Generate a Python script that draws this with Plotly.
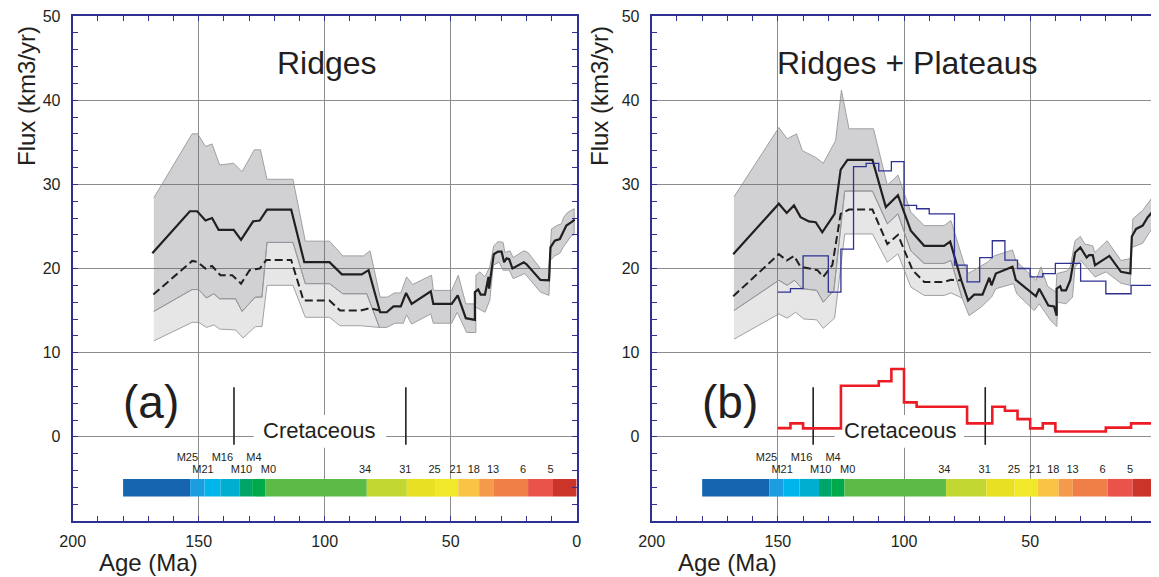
import plotly.graph_objects as go

# ---------------- DATA ----------------
# Left panel (a) Ridges
L_SOLID_AGE = [168.4,153.5,150.6,147.3,144.7,142.1,136.1,133.2,128.4,125.8,122.9,113.3,108.1,98.1,93.2,85.3,82.6,78.0,75.4,72.7,69.8,67.7,65.5,57.9,56.9,49.6,47.2,44.0,40.4,40.4,39.1,38.1,36.4,35.0,34.8,32.9,31.2,29.8,28.8,27.8,26.8,25.5,21.0,19.9,14.4,11.0,10.4,8.7,6.7,5.4,4.1,2.1,0.8]
L_SOLID_FLUX = [21.8,26.8,26.8,25.7,26.0,24.6,24.6,23.4,25.6,25.7,27.0,27.0,20.75,20.75,19.3,19.3,19.8,14.8,14.8,15.5,15.5,17.1,15.8,17.3,15.8,15.8,16.8,14.1,13.9,17.2,17.5,16.9,16.9,19.0,17.6,21.7,22.0,22.0,20.75,21.2,21.1,20.0,20.75,20.5,18.65,18.6,22.5,23.3,23.5,24.3,25.1,25.5,25.8]
L_DASH_AGE = [168.0,152.6,150.6,147.3,144.7,141.4,136.7,133.2,129.8,125.8,123.2,113.3,108.4,98.1,93.9,85.9,82.0,78.2]
L_DASH_FLUX = [16.9,20.9,20.8,20.0,20.3,19.2,19.2,18.2,19.8,20.0,21.0,21.0,16.2,16.2,15.0,15.0,15.3,15.0]
L_UP_AGE = [167.8,152.6,150.4,147.3,144.7,141.7,136.1,132.8,127.9,125.5,122.9,112.6,107.7,98.1,92.8,84.6,82.0,78.0,75.1,72.3,69.8,67.5,65.1,57.6,56.9,49.6,47.0,44.0,40.0,40.0,38.4,36.4,34.5,32.9,31.2,29.2,28.5,26.5,25.2,21.0,19.3,14.4,11.0,10.0,8.0,6.1,5.1,3.8,1.7,1.0]
L_UP_FLUX = [28.4,36.0,36.0,34.5,34.8,32.3,32.5,31.5,34.1,34.1,30.6,30.6,23.25,23.25,21.5,21.5,22.1,16.6,16.6,17.1,17.1,19.0,18.1,19.2,17.4,17.4,19.2,15.8,15.8,19.2,19.6,19.0,20.2,22.7,23.2,23.1,21.9,22.1,21.3,22.1,21.9,20.0,20.0,24.7,25.1,25.3,26.1,26.6,27.0,27.1]
L_MID_DUAL_AGE = [167.8,152.6,150.0,146.9,144.0,141.7,135.4,132.8,127.5,124.9,122.9,112.6,107.7,98.1,92.8,83.3,78.3]
L_MID_DUAL_FLUX = [14.9,17.5,17.5,16.5,17.0,16.4,16.4,14.9,16.6,16.6,23.1,23.1,18.2,18.2,17.0,17.0,13.0]
L_LOW_SINGLE_AGE = [75.4,72.1,68.8,67.5,65.5,57.9,56.9,49.6,47.4,43.7,40.0,40.0,36.4,34.5,33.1,30.8,29.2,26.8,25.2,20.6,14.4,11.0,10.4,8.7,6.7,5.4,2.1,1.0]
L_LOW_SINGLE_FLUX = [13.0,13.5,13.5,14.5,13.4,14.6,13.5,13.5,14.8,12.4,12.4,15.4,14.8,16.2,20.4,20.75,19.8,19.8,18.8,19.4,17.2,16.8,21.0,21.5,21.8,22.5,23.9,24.0]
L_LIGHT_LOW_AGE = [167.8,152.6,150.0,146.9,144.0,141.7,135.4,132.4,127.5,124.9,122.9,112.6,107.7,98.1,93.9,85.9,78.3]
L_LIGHT_LOW_FLUX = [11.4,13.6,13.6,13.0,13.3,12.8,12.7,11.75,13.1,13.1,18.0,18.0,14.2,14.2,13.2,13.2,13.0]

# Right panel (b) Ridges + Plateaus
R_SOLID_AGE = [167.7,149.6,146.5,143.6,141.0,137.7,135.0,132.4,127.5,125.1,122.4,112.5,107.2,102.4,97.3,92.0,84.1,81.7,77.3,74.6,72.2,68.9,66.2,65.3,63.6,57.0,55.7,47.7,46.4,42.8,40.5,39.5,39.5,38.1,37.5,35.8,34.1,32.2,30.1,27.6,26.6,25.2,24.3,19.9,18.6,14.0,10.3,9.7,8.0,5.4,3.4,1.0]
R_SOLID_FLUX = [21.7,27.7,26.6,27.5,26.1,25.6,25.5,24.3,26.5,31.75,32.9,32.9,27.3,28.7,24.5,22.7,22.7,23.2,18.6,16.2,16.9,16.9,18.9,18.0,19.4,20.2,18.65,16.7,17.6,15.6,15.5,14.4,17.6,17.9,17.4,17.4,18.6,21.9,22.5,21.3,21.6,21.6,20.4,21.2,21.5,19.6,19.4,23.8,24.7,25.1,26.1,26.9]
R_DASH_AGE = [167.7,149.6,146.5,143.6,141.0,137.7,134.3,132.0,128.4,125.1,121.8,112.5,106.6,102.4,96.6,92.0,84.1,81.4,77.3]
R_DASH_FLUX = [16.7,21.7,20.95,21.5,20.2,20.0,19.8,19.0,20.4,26.5,27.0,27.0,22.9,24.0,19.8,18.4,18.4,18.65,18.6]
R_UP_AGE = [167.4,149.6,146.3,142.6,140.3,135.0,132.0,127.1,124.8,121.8,112.1,106.6,102.4,97.3,92.0,84.1,81.4,76.2,74.6,66.9,64.3,57.0,55.7,47.7,45.7,43.1,39.8,39.4,35.4,34.1,32.2,30.1,28.3,25.2,24.3,19.5,14.0,10.0,9.3,5.4,1.0]
R_UP_FLUX = [28.5,36.75,35.4,36.0,34.0,33.2,32.5,35.2,41.2,36.6,36.6,29.9,31.1,26.7,25.1,25.1,25.7,20.6,19.4,20.75,21.5,22.2,20.95,18.6,20.2,17.9,17.2,19.4,19.7,20.2,23.3,23.8,22.9,22.7,21.9,23.3,20.95,21.2,25.9,26.9,28.7]
R_MID_DUAL_AGE = [167.4,149.6,146.3,143.4,140.3,134.6,132.0,127.8,123.5,112.5,106.6,102.4,97.3,92.0,84.1,81.4,77.0]
R_MID_DUAL_FLUX = [15.0,18.6,18.0,18.6,17.6,17.4,16.0,17.4,29.2,29.2,25.3,26.5,22.1,20.6,20.6,20.95,16.5]
R_LOW_SINGLE_AGE = [74.2,69.5,65.3,63.6,56.6,55.3,48.4,46.4,41.8,39.4,39.1,35.8,33.2,32.2,29.9,27.2,24.3,19.9,14.0,10.3,9.7,5.4,1.0]
R_LOW_SINGLE_FLUX = [14.4,15.4,16.6,17.6,18.2,17.0,15.0,15.8,13.8,13.1,16.0,15.8,16.6,20.2,20.95,20.0,19.0,19.6,18.25,18.0,22.5,23.0,25.1]
R_LIGHT_LOW_AGE = [167.4,149.6,146.3,143.0,139.7,134.6,132.0,127.5,123.5,112.5,106.6,102.4,97.3,92.0,84.1,81.4,77.0]
R_LIGHT_LOW_FLUX = [11.6,14.6,14.1,14.8,14.0,13.9,12.9,14.1,24.1,24.1,20.75,21.75,17.8,16.8,16.8,17.1,16.5]

# Blue step series (right panel)
BLUE_AGE = [150,145,140,130,125,120,115,110,105,100,95,90,80,75,70,65,60,55,50,45,40,30,20,10,0]
BLUE_FLUX = [17.2,17.6,21.5,17.2,22.3,32.1,32.5,31.6,32.7,27.5,27.1,26.5,20.4,18.4,21.3,23.3,21.0,20.0,19.0,19.4,20.6,18.5,17.0,18.0,18.0]
# Red step series (right panel)
RED_AGE = [150,145,140,125,110,105,100,95,75,65,60,55,50,45,40,20,10,0.5]
RED_FLUX = [1.03,1.6,1.0,6.07,6.6,8.06,4.1,3.57,1.6,3.57,3.1,2.1,1.0,1.6,0.63,1.1,1.6,1.6]

# Magnetic chron colour bar
CHRON_EDGES = [180,153.4,147.7,141.4,133.7,128.8,123.6,83.3,67.4,56.2,47.0,38.7,33.1,19.3,9.4,0]
CHRON_COLORS = ["#1565b0","#1b9de0","#00b5ec","#00aecf","#00a56a","#00aa4b","#5cba47","#c2d732",
                "#e8e023","#f1e829","#f9c444","#f39b4b","#ef7f46","#e9534a","#cb3429"]
CHRON_LABELS_UP = ["M25","M16","M4"]
CHRON_LABELS_UP_AGE = [154.5,140.6,128.1]
CHRON_LABELS_LO = ["M21","M10","M0","34","31","25","21","18","13","6","5"]
CHRON_LABELS_LO_AGE = [148.3,133.0,122.3,84.0,68.0,56.4,48.0,40.8,33.2,21.3,10.4]
CRET_TICKS = [136.0,67.8]

X_TICKS = [200,150,100,50,0]
Y_TICKS = [0,10,20,30,40,50]

# ---------------- STYLE / LAYOUT ----------------
NAVY = "#2e3192"
INK = "#231f20"
GRID = "#8c8c8c"
FONT = "Liberation Sans, Arial, Helvetica, sans-serif"
DARK_FILL = "rgba(95,98,102,0.29)"
LIGHT_FILL = "rgba(95,98,102,0.155)"
EDGE = "rgba(150,152,155,0.9)"

OFF = 8  # page body margin of the browser
W, H = 1159 - OFF, 577 - OFF


def px_x(p):
    return (p - OFF) / W


def px_y(p):
    return 1 - (p - OFF) / H


fig = go.Figure()


def add_panel(xa, ya, solid, dash, up, mid_dual, low_single, light_low):
    lx = list(mid_dual[0]) + list(light_low[0])[::-1]
    ly = list(mid_dual[1]) + list(light_low[1])[::-1]
    fig.add_trace(go.Scatter(x=lx, y=ly, fill="toself", fillcolor=LIGHT_FILL, mode="lines",
                             line=dict(color=EDGE, width=1), xaxis=xa, yaxis=ya, hoverinfo="skip"))
    low_x = list(mid_dual[0]) + list(low_single[0])
    low_y = list(mid_dual[1]) + list(low_single[1])
    dx = list(up[0]) + low_x[::-1]
    dy = list(up[1]) + low_y[::-1]
    fig.add_trace(go.Scatter(x=dx, y=dy, fill="toself", fillcolor=DARK_FILL, mode="lines",
                             line=dict(color=EDGE, width=1), xaxis=xa, yaxis=ya, hoverinfo="skip"))
    starts = CHRON_EDGES[1:]
    widths = [a - b for a, b in zip(CHRON_EDGES[:-1], CHRON_EDGES[1:])]
    fig.add_trace(go.Bar(y=[-6.05] * len(widths), x=widths, base=starts, orientation="h", width=2.1,
                         marker=dict(color=CHRON_COLORS, line=dict(width=0)), xaxis=xa, yaxis=ya,
                         hoverinfo="skip"))
    fig.add_trace(go.Scatter(x=CHRON_LABELS_UP_AGE, y=[-2.55] * len(CHRON_LABELS_UP), text=CHRON_LABELS_UP,
                             mode="text", textfont=dict(size=11, color=INK, family=FONT), xaxis=xa, yaxis=ya))
    fig.add_trace(go.Scatter(x=CHRON_LABELS_LO_AGE, y=[-3.95] * len(CHRON_LABELS_LO), text=CHRON_LABELS_LO,
                             mode="text", textfont=dict(size=11, color=INK, family=FONT), xaxis=xa, yaxis=ya))
    for t in CRET_TICKS:
        fig.add_trace(go.Scatter(x=[t, t], y=[5.9, -0.95], mode="lines", line=dict(color=INK, width=1.6),
                                 xaxis=xa, yaxis=ya))
    fig.add_trace(go.Scatter(x=solid[0], y=solid[1], mode="lines", line=dict(color=INK, width=2.2),
                             xaxis=xa, yaxis=ya))
    fig.add_trace(go.Scatter(x=dash[0], y=dash[1], mode="lines", line=dict(color=INK, width=2, dash="8px,4px"),
                             xaxis=xa, yaxis=ya))


add_panel("x", "y", (L_SOLID_AGE, L_SOLID_FLUX), (L_DASH_AGE, L_DASH_FLUX), (L_UP_AGE, L_UP_FLUX),
          (L_MID_DUAL_AGE, L_MID_DUAL_FLUX), (L_LOW_SINGLE_AGE, L_LOW_SINGLE_FLUX),
          (L_LIGHT_LOW_AGE, L_LIGHT_LOW_FLUX))
add_panel("x2", "y2", (R_SOLID_AGE, R_SOLID_FLUX), (R_DASH_AGE, R_DASH_FLUX), (R_UP_AGE, R_UP_FLUX),
          (R_MID_DUAL_AGE, R_MID_DUAL_FLUX), (R_LOW_SINGLE_AGE, R_LOW_SINGLE_FLUX),
          (R_LIGHT_LOW_AGE, R_LIGHT_LOW_FLUX))

fig.add_trace(go.Scatter(x=BLUE_AGE, y=BLUE_FLUX, mode="lines", line=dict(color=NAVY, width=1.3, shape="hv"),
                         xaxis="x2", yaxis="y2"))
fig.add_trace(go.Scatter(x=RED_AGE, y=RED_FLUX, mode="lines", line=dict(color="#ed1c24", width=2.6, shape="hv"),
                         xaxis="x2", yaxis="y2"))

ydom = [px_y(521), px_y(16)]
xax = dict(range=[200, 0], tickmode="array", tickvals=X_TICKS, ticktext=[str(v) for v in X_TICKS],
           ticks="inside", ticklen=5, tickcolor=NAVY, tickwidth=1,
           minor=dict(tickmode="linear", tick0=0, dtick=10, ticks="inside", ticklen=5, tickcolor=NAVY, showgrid=False),
           showline=True, linecolor=NAVY, linewidth=2, mirror="ticks",
           showgrid=True, gridcolor=GRID, gridwidth=1, zeroline=False, automargin=False,
           ticklabeloverflow="allow",
           tickfont=dict(size=16, color=INK, family=FONT), ticklabelstandoff=5)
yax = dict(range=[-10, 50], tickmode="array", tickvals=Y_TICKS, ticktext=[str(v) for v in Y_TICKS],
           ticks="inside", ticklen=5, tickcolor=NAVY, tickwidth=1,
           minor=dict(tickmode="linear", tick0=0, dtick=2, ticks="inside", ticklen=5, tickcolor=NAVY, showgrid=False),
           showline=True, linecolor=NAVY, linewidth=2, mirror="ticks",
           showgrid=True, gridcolor=GRID, gridwidth=1, zeroline=False, automargin=False,
           ticklabeloverflow="allow",
           tickfont=dict(size=16, color=INK, family=FONT), ticklabelstandoff=7, domain=ydom)

fig.update_layout(
    width=W, height=H, autosize=False,
    margin=dict(l=0, r=0, t=0, b=0, autoexpand=False),
    paper_bgcolor="white", plot_bgcolor="white",
    showlegend=False, barmode="overlay",
    xaxis=dict(xax, domain=[px_x(72.7), px_x(576.7)], anchor="y"),
    yaxis=dict(yax, anchor="x"),
    xaxis2=dict(xax, domain=[px_x(651.7), px_x(1156.3)], anchor="y2"),
    yaxis2=dict(yax, anchor="x2"),
)

fig.add_shape(type="rect", xref="x", yref="y", x0=128.2, x1=75.6, y0=-1.3, y1=2.6,
              fillcolor="white", line=dict(width=0), layer="between")
fig.add_shape(type="rect", xref="x2", yref="y2", x0=127.5, x1=76.2, y0=-1.3, y1=2.6,
              fillcolor="white", line=dict(width=0), layer="between")

ann = []
for xr, yr, title, lab, tx, cx in [("x", "y", "Ridges", "(a)", 99.2, 102.0),
                                   ("x2", "y2", "Ridges + Plateaus", "(b)", 98.5, 101.4)]:
    ann.append(dict(xref=xr, yref=yr, x=tx, y=44.4, text=title, showarrow=False,
                    xanchor="center", yanchor="middle", font=dict(size=32, color=INK, family=FONT)))
    ann.append(dict(xref=xr, yref=yr, x=169, y=4.1, text=lab, showarrow=False,
                    xanchor="center", yanchor="middle", font=dict(size=46, color=INK, family=FONT)))
    ann.append(dict(xref=xr, yref=yr, x=cx, y=0.8, text="Cretaceous", showarrow=False,
                    xanchor="center", yanchor="middle", font=dict(size=22, color=INK, family=FONT)))
for p in [26, 599]:
    ann.append(dict(xref="paper", yref="paper", x=px_x(p), y=px_y(96), text="Flux (km3/yr)",
                    textangle=-90, showarrow=False, xanchor="center", yanchor="middle",
                    font=dict(size=24, color=INK, family=FONT)))
for p in [97, 676]:
    ann.append(dict(xref="paper", yref="paper", x=px_x(p), y=px_y(562), text="Age (Ma)",
                    xanchor="left", yanchor="middle", showarrow=False,
                    font=dict(size=24, color=INK, family=FONT)))
fig.update_layout(annotations=ann)

fig.write_html("out.html")
